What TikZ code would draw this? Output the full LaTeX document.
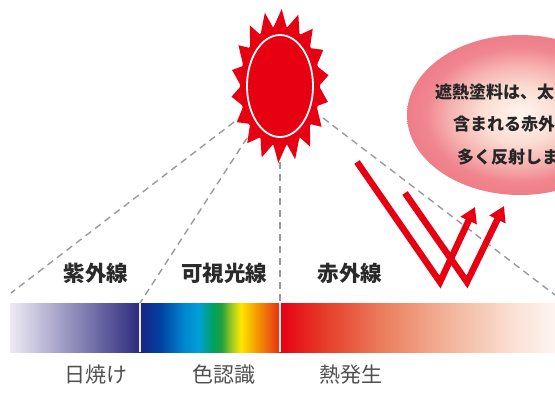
\documentclass[tikz,border=0pt]{standalone}
\usepackage{fontspec}
\newfontfamily\jp{Noto Sans CJK JP}
\usetikzlibrary{arrows.meta}

\definecolor{sunred}{HTML}{E60012}
\definecolor{dashgray}{HTML}{9A9A9A}
\definecolor{labdark}{HTML}{2A2A2A}
\definecolor{labgray}{HTML}{505050}
\definecolor{uvL}{HTML}{EEEBF5}
\definecolor{uvR}{HTML}{2D2A7F}
% visible light
\definecolor{vA}{HTML}{1A2585}
\definecolor{vB}{HTML}{0040A0}
\definecolor{vC}{HTML}{0088D0}
\definecolor{vD}{HTML}{00A0D8}
\definecolor{vE}{HTML}{00A060}
\definecolor{vF}{HTML}{20A040}
\definecolor{vG}{HTML}{A8CC20}
\definecolor{vH}{HTML}{FFE500}
\definecolor{vI}{HTML}{F5A300}
\definecolor{vJ}{HTML}{EE6010}
\definecolor{vK}{HTML}{E52E12}
% infrared
\definecolor{rA}{HTML}{E60012}
\definecolor{rB}{HTML}{E63C28}
\definecolor{rC}{HTML}{EB7A5A}
\definecolor{rD}{HTML}{F0A488}
\definecolor{rE}{HTML}{F6C8B4}
\definecolor{rF}{HTML}{FBE2D6}
\definecolor{rG}{HTML}{FEF4EF}
% balloon
\definecolor{bubA}{HTML}{FFF6F0}
\definecolor{bubB}{HTML}{FBDCD2}
\definecolor{bubC}{HTML}{F5AFAE}
\definecolor{bubD}{HTML}{F0868F}
\definecolor{bubE}{HTML}{EE7E89}

\pgfdeclarehorizontalshading{visible}{100bp}{color(0bp)=(vA); color(25bp)=(vA);
  color(32bp)=(vB); color(41bp)=(vC); color(46bp)=(vD); color(51bp)=(vE);
  color(54bp)=(vF); color(58bp)=(vG); color(61bp)=(vH); color(66bp)=(vI);
  color(71bp)=(vJ); color(75bp)=(vK); color(100bp)=(vK)}
\pgfdeclarehorizontalshading{infrared}{100bp}{color(0bp)=(rA); color(25bp)=(rA);
  color(33bp)=(rB); color(43bp)=(rC); color(52bp)=(rD); color(61bp)=(rE);
  color(68bp)=(rF); color(75bp)=(rG); color(100bp)=(rG)}
\pgfdeclareradialshading{bubble}{\pgfpoint{0bp}{0bp}}{color(0bp)=(bubA); color(9bp)=(bubB);
  color(16bp)=(bubC); color(21bp)=(bubD); color(25bp)=(bubE); color(50bp)=(bubE)}

\begin{document}
\begin{tikzpicture}[x=1pt,y=-1pt,
  guide/.style={dashgray,line width=1.4pt,dash pattern=on 7pt off 5pt},
  divider/.style={white!85!gray,line width=1.6pt},
  ir ray/.style={sunred,line width=6.5pt,-{Triangle[width=17pt,length=15pt]}},
  toplab/.style={font=\jp\bfseries\fontsize{21.5}{24}\selectfont,text=labdark,inner sep=0pt},
  botlab/.style={font=\jp\fontsize{21}{24}\selectfont,text=labgray,inner sep=0pt},
  bubtext/.style={font=\jp\bfseries\fontsize{17}{20}\selectfont,text=black!85,inner sep=0pt,anchor=west}]
\clip (0,0) rectangle (555,392);

% spectrum bar
\shade[left color=uvL,right color=uvR] (10,303) rectangle (140,352);
\shade[shading=visible] (140,303) rectangle (280,352);
\shade[shading=infrared] (280,303) rectangle (555,352);

\coordinate (s1) at (234,122);
\coordinate (s2) at (247,138);
\coordinate (s3) at (280,162);
\coordinate (s4) at (323,118);
\coordinate (e1) at (11,293);
\coordinate (e2) at (140,303);
\coordinate (e3) at (280,303);
\coordinate (e4) at (555,295);
\coordinate (f2) at (140,352);
\coordinate (f3) at (280,352);

\draw[guide] (s1) -- (e1);
\draw[guide] (s2) -- (e2);
\draw[guide] (s3) -- (e3);
\draw[guide] (s4) -- (e4);
\draw[divider] (e2) -- (f2);
\draw[divider] (e3) -- (f3);

% balloon
\shade[shading=bubble] (520,115) ellipse (113 and 80);
\node[bubtext] (bt1) at (435,92) {遮熱塗料は、太};
\node[bubtext] (bt2) at (453,124) {含まれる赤外};
\node[bubtext] (bt3) at (457,157) {多く反射しま};

% sun
\begin{scope}[shift={(280,86)}]
\fill[sunred] (0:39 and 59) \foreach \a in {0,20,...,340}{
  -- (\a+12:49 and 77) -- (\a+20:39 and 59)} -- cycle;
\fill[sunred] (0,0) ellipse (40 and 60);
\draw[white,line width=1.8pt] (0,0) ellipse (33 and 51);
\end{scope}

% reflected rays
\coordinate (a0) at (357,162);
\coordinate (a1) at (440,282);
\coordinate (a2) at (475,207);
\coordinate (b0) at (405,193);
\coordinate (b1) at (467,282);
\coordinate (b2) at (504,206);
\draw[ir ray] (a0) -- (a1) -- (a2);
\draw[ir ray] (b0) -- (b1) -- (b2);

\node[toplab] (uv) at (96,273) {紫外線};
\node[toplab] (vis) at (224,273) {可視光線};
\node[toplab] (ir) at (350,273) {赤外線};
\node[botlab] (tan) at (96,375) {日焼け};
\node[botlab] (col) at (224,375) {色認識};
\node[botlab] (heat) at (351,375) {熱発生};
\end{tikzpicture}
\end{document}
